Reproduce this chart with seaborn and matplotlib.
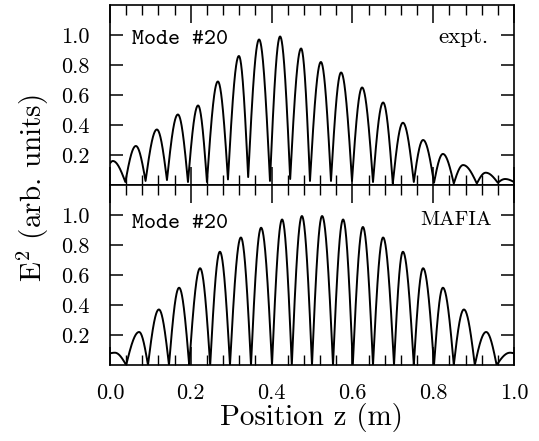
import numpy as np
import pandas as pd
import matplotlib
matplotlib.use("Agg")
import matplotlib.pyplot as plt
import seaborn as sns
from matplotlib.ticker import MultipleLocator

# ---------------- data ----------------
# alternating extrema (edge, peak, minimum, peak, ...) of the measured curve
expt_z = [0.000, 0.007, 0.038, 0.064, 0.088, 0.116, 0.141, 0.168, 0.193, 0.218,
          0.240, 0.267, 0.292, 0.319, 0.342, 0.369, 0.396, 0.421, 0.446, 0.473,
          0.495, 0.522, 0.547, 0.572, 0.599, 0.624, 0.651, 0.676, 0.700, 0.725,
          0.752, 0.775, 0.802, 0.824, 0.851, 0.874, 0.908, 0.930, 0.960, 0.978,
          1.000]
expt_E2 = [0.145, 0.160, 0.020, 0.260, 0.027, 0.370, 0.033, 0.470, 0.020, 0.530,
           0.020, 0.690, 0.037, 0.860, 0.053, 0.970, 0.027, 0.990, 0.040, 0.910,
           0.027, 0.820, 0.027, 0.750, 0.027, 0.650, 0.020, 0.550, 0.010, 0.415,
           0.020, 0.300, 0.015, 0.207, 0.010, 0.133, 0.010, 0.082, 0.015, 0.040,
           0.020]

# alternating extrema of the MAFIA simulation
mafia_z = [0.000, 0.012, 0.040, 0.072, 0.094, 0.121, 0.146, 0.171, 0.196, 0.223,
           0.248, 0.272, 0.297, 0.324, 0.349, 0.374, 0.401, 0.426, 0.450, 0.475,
           0.500, 0.525, 0.552, 0.577, 0.601, 0.626, 0.651, 0.676, 0.703, 0.725,
           0.752, 0.775, 0.802, 0.824, 0.851, 0.876, 0.903, 0.931, 0.957, 0.990,
           1.000]
mafia_E2 = [0.078, 0.082, 0.000, 0.220, 0.000, 0.370, 0.000, 0.515, 0.000, 0.645,
            0.000, 0.755, 0.000, 0.850, 0.000, 0.915, 0.000, 0.970, 0.000, 0.993,
            0.000, 0.993, 0.000, 0.970, 0.000, 0.920, 0.000, 0.850, 0.000, 0.755,
            0.000, 0.645, 0.000, 0.515, 0.000, 0.370, 0.000, 0.220, 0.000, 0.082,
            0.078]

x_ticks = [0.0, 0.2, 0.4, 0.6, 0.8, 1.0]
x_tick_labels = ["0.0", "0.2", "0.4", "0.6", "0.8", "1.0"]
y_ticks = [0.2, 0.4, 0.6, 0.8, 1.0]
y_tick_labels = ["0.2", "0.4", "0.6", "0.8", "1.0"]
panel_labels = ["Mode #20", "Mode #20"]
panel_tags = ["expt.", "MAFIA"]


def lobes(zs, vs, n=60):
    """Join extrema with arch-shaped segments (cusp at minima, round at peaks)."""
    xs, ys = [], []
    t = np.linspace(0, 1, n)
    for i in range(len(zs) - 1):
        xa, xb, ya, yb = zs[i], zs[i + 1], vs[i], vs[i + 1]
        if ya <= yb:
            y = ya + (yb - ya) * np.sin(np.pi / 2 * t)
        else:
            y = yb + (ya - yb) * np.sin(np.pi / 2 * (1 - t))
        xs.append(xa + (xb - xa) * t)
        ys.append(y)
    return np.concatenate(xs), np.concatenate(ys)


sns.set_theme(style="ticks")
plt.rcParams["font.family"] = ["cmr10", "DejaVu Serif"]
plt.rcParams["mathtext.fontset"] = "cm"
plt.rcParams["axes.formatter.use_mathtext"] = True

W, H = 539, 441
fig = plt.figure(figsize=(W / 100, H / 100), dpi=100)
fig.patch.set_facecolor("white")

left, right = 110 / W, 514 / W
ax_top = fig.add_axes([left, 1 - 185 / H, right - left, 180 / H])
ax_bot = fig.add_axes([left, 1 - 365 / H, right - left, 180 / H])

label_y = [0.781, 0.759]
tag_y = [0.787, 0.778]
tag_x = [0.936, 0.946]
tag_size = [16.5, 15]
TICK_FS = 16

datasets = [(expt_z, expt_E2), (mafia_z, mafia_E2)]
for k, (ax, (zs, vs)) in enumerate(zip([ax_top, ax_bot], datasets)):
    xx, yy = lobes(zs, vs)
    df = pd.DataFrame({"z": xx, "E2": yy})
    sns.lineplot(data=df, x="z", y="E2", ax=ax, color="black", lw=1.4,
                 sort=False, estimator=None)
    ax.set_xlim(0, 1)
    ax.set_ylim(0, 1.2)
    ax.set_facecolor("white")
    ax.set_xlabel("")
    ax.set_ylabel("")
    for sp in ax.spines.values():
        sp.set_visible(True)
        sp.set_color("black")
        sp.set_linewidth(1.2)
    ax.set_xticks(x_ticks)
    ax.xaxis.set_minor_locator(MultipleLocator(0.04))
    ax.set_yticks(y_ticks)
    ax.set_yticklabels(y_tick_labels, fontsize=TICK_FS, color="black")
    ax.tick_params(axis="x", which="major", direction="in", length=13, width=1.1,
                   top=True, bottom=True, color="black", pad=13)
    ax.tick_params(axis="x", which="minor", direction="in", length=7, width=1.0,
                   top=True, bottom=True, color="black")
    ax.tick_params(axis="y", which="major", direction="in", length=9.5, width=1.1,
                   left=True, right=True, color="black", pad=15)
    ax.text(0.055, label_y[k], panel_labels[k], transform=ax.transAxes,
            family=["cmtt10", "DejaVu Sans Mono"], fontsize=16.5, color="black",
            ha="left", va="baseline")
    ax.text(tag_x[k], tag_y[k], panel_tags[k], transform=ax.transAxes,
            fontsize=tag_size[k], color="black", ha="right", va="baseline")

ax_top.set_xticklabels([])
ax_bot.set_xticklabels(x_tick_labels, fontsize=TICK_FS, color="black")

fig.text((110 + 514) / 2 / W, 1 - 418 / H, "Position z (m)", ha="center",
         va="center", fontsize=21, color="black")
fig.text(33 / W, 1 - 188 / H, r"$\mathrm{E}^2$ (arb. units)", ha="center",
         va="center", rotation=90, fontsize=21, color="black")

fig.savefig("out.png", dpi=100, facecolor="white")
